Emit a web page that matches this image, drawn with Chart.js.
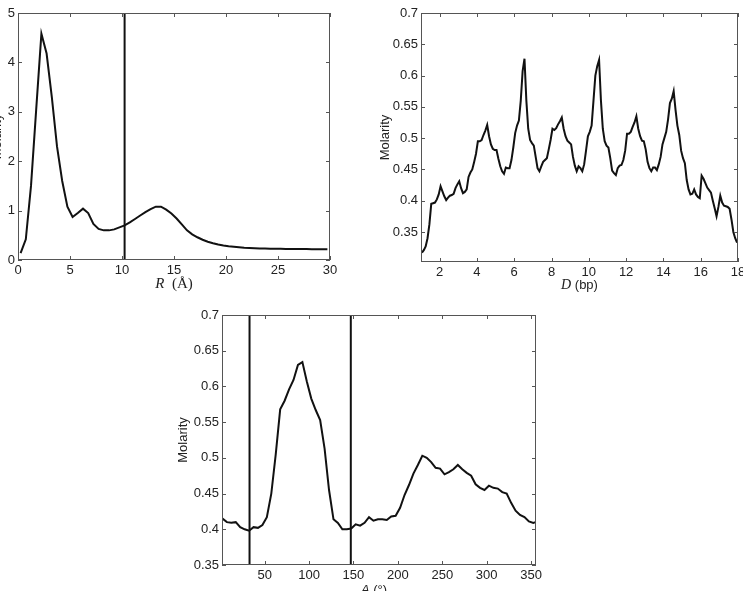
<!DOCTYPE html>
<html>
<head>
<meta charset="utf-8">
<title>Molarity profiles</title>
<script src="https://cdn.jsdelivr.net/npm/chart.js@4.4.0/dist/chart.umd.min.js"></script>
<style>
  html, body { margin: 0; padding: 0; background: #fff; }
  #page { position: relative; width: 743px; height: 591px; overflow: hidden; background: #fff; }
  #page canvas { position: absolute; }
  #radial { left: -30px; top: 0; }
  #along { left: 370px; top: 0; }
  #angle { left: 160px; top: 300px; }
</style>
</head>
<body>
<div id="page">
  <canvas id="radial" width="370" height="300"></canvas>
  <canvas id="along" width="373" height="300"></canvas>
  <canvas id="angle" width="383" height="310"></canvas>
</div>
<script>
// radial profile, R in Angstrom
var radius = [0.25, 0.75, 1.25, 1.75, 2.25, 2.75, 3.25, 3.75, 4.25, 4.75,
	5.25, 5.75, 6.25, 6.75, 7.25, 7.75, 8.25, 8.75, 9.25, 9.75,
	10.25, 10.75, 11.25, 11.75, 12.25, 12.75, 13.25, 13.75, 14.25, 14.75,
	15.25, 15.75, 16.25, 16.75, 17.25, 17.75, 18.25, 18.75, 19.25, 19.75,
	20.25, 20.75, 21.25, 21.75, 22.25, 22.75, 23.25, 23.75, 24.25, 24.75,
	25.25, 25.75, 26.25, 26.75, 27.25, 27.75, 28.25, 28.75, 29.25, 29.75];
var molarityR = [0.14, 0.42, 1.5, 3.05, 4.58, 4.18, 3.3, 2.3, 1.6, 1.08,
	0.87, 0.95, 1.04, 0.95, 0.73, 0.63, 0.6, 0.6, 0.62, 0.66,
	0.7, 0.76, 0.83, 0.9, 0.97, 1.03, 1.08, 1.08, 1.02, 0.94,
	0.84, 0.72, 0.6, 0.52, 0.46, 0.41, 0.37, 0.34, 0.315, 0.295,
	0.28, 0.27, 0.26, 0.25, 0.245, 0.24, 0.235, 0.232, 0.23, 0.228,
	0.226, 0.225, 0.224, 0.223, 0.222, 0.221, 0.22, 0.22, 0.219, 0.218];
var radiusCuts = [10.25];
var radiusTicks = [0, 5, 10, 15, 20, 25, 30];
var molarityRTicks = [0, 1, 2, 3, 4, 5];

// profile along the DNA, D in bp
var distBp = [1.05, 1.15, 1.25, 1.35, 1.45, 1.55, 1.65, 1.75, 1.85, 1.95,
	2.05, 2.15, 2.25, 2.35, 2.45, 2.55, 2.65, 2.75, 2.85, 2.95,
	3.05, 3.15, 3.25, 3.35, 3.45, 3.55, 3.65, 3.75, 3.85, 3.95,
	4.05, 4.15, 4.25, 4.35, 4.45, 4.55, 4.65, 4.75, 4.85, 4.95,
	5.05, 5.15, 5.25, 5.35, 5.45, 5.55, 5.65, 5.75, 5.85, 5.95,
	6.05, 6.15, 6.25, 6.35, 6.45, 6.55, 6.65, 6.75, 6.85, 6.95,
	7.05, 7.15, 7.25, 7.35, 7.45, 7.55, 7.65, 7.75, 7.85, 7.95,
	8.05, 8.15, 8.25, 8.35, 8.45, 8.55, 8.65, 8.75, 8.85, 8.95,
	9.05, 9.15, 9.25, 9.35, 9.45, 9.55, 9.65, 9.75, 9.85, 9.95,
	10.05, 10.15, 10.25, 10.35, 10.45, 10.55, 10.65, 10.75, 10.85, 10.95,
	11.05, 11.15, 11.25, 11.35, 11.45, 11.55, 11.65, 11.75, 11.85, 11.95,
	12.05, 12.15, 12.25, 12.35, 12.45, 12.55, 12.65, 12.75, 12.85, 12.95,
	13.05, 13.15, 13.25, 13.35, 13.45, 13.55, 13.65, 13.75, 13.85, 13.95,
	14.05, 14.15, 14.25, 14.35, 14.45, 14.55, 14.65, 14.75, 14.85, 14.95,
	15.05, 15.15, 15.25, 15.35, 15.45, 15.55, 15.65, 15.75, 15.85, 15.95,
	16.05, 16.15, 16.25, 16.35, 16.45, 16.55, 16.65, 16.75, 16.85, 16.95,
	17.05, 17.15, 17.25, 17.35, 17.45, 17.55, 17.65, 17.75, 17.85, 17.95];
var molarityD = [0.317, 0.321, 0.327, 0.34, 0.362, 0.395, 0.396, 0.397, 0.402, 0.41,
	0.423, 0.415, 0.407, 0.401, 0.405, 0.408, 0.409, 0.411, 0.42, 0.426,
	0.431, 0.42, 0.412, 0.414, 0.418, 0.438, 0.445, 0.45, 0.462, 0.475,
	0.495, 0.495, 0.497, 0.505, 0.512, 0.521, 0.503, 0.49, 0.483, 0.481,
	0.481, 0.467, 0.455, 0.447, 0.443, 0.453, 0.452, 0.452, 0.465, 0.485,
	0.508, 0.52, 0.528, 0.56, 0.607, 0.627, 0.56, 0.515, 0.497, 0.492,
	0.488, 0.47, 0.452, 0.447, 0.455, 0.462, 0.465, 0.468, 0.482, 0.497,
	0.515, 0.513, 0.516, 0.522, 0.527, 0.533, 0.515, 0.503, 0.496, 0.493,
	0.49, 0.47, 0.456, 0.447, 0.455, 0.452, 0.447, 0.458, 0.48, 0.503,
	0.51, 0.52, 0.56, 0.6, 0.615, 0.625, 0.56, 0.515, 0.495, 0.488,
	0.485, 0.468, 0.448, 0.444, 0.441, 0.452, 0.456, 0.457, 0.465, 0.48,
	0.507, 0.507, 0.51, 0.518, 0.525, 0.535, 0.515, 0.503, 0.496, 0.495,
	0.482, 0.462, 0.452, 0.447, 0.453, 0.453, 0.449, 0.458, 0.47, 0.49,
	0.5, 0.51, 0.53, 0.556, 0.563, 0.575, 0.545, 0.52, 0.505, 0.48,
	0.468, 0.46, 0.433, 0.418, 0.41, 0.411, 0.418, 0.41, 0.406, 0.404,
	0.44, 0.435, 0.428, 0.421, 0.417, 0.413, 0.4, 0.388, 0.375, 0.39,
	0.408, 0.397, 0.392, 0.391, 0.39, 0.387, 0.37, 0.35, 0.34, 0.333];
var distTicks = [2, 4, 6, 8, 10, 12, 14, 16, 18];
var molarityDTicks = [0.35, 0.4, 0.45, 0.5, 0.55, 0.6, 0.65, 0.7];

// angular profile, A in degrees
var angleDeg = [2.5, 7.5, 12.5, 17.5, 22.5, 27.5, 32.5, 37.5, 42.5, 47.5,
	52.5, 57.5, 62.5, 67.5, 72.5, 77.5, 82.5, 87.5, 92.5, 97.5,
	102.5, 107.5, 112.5, 117.5, 122.5, 127.5, 132.5, 137.5, 142.5, 147.5,
	152.5, 157.5, 162.5, 167.5, 172.5, 177.5, 182.5, 187.5, 192.5, 197.5,
	202.5, 207.5, 212.5, 217.5, 222.5, 227.5, 232.5, 237.5, 242.5, 247.5,
	252.5, 257.5, 262.5, 267.5, 272.5, 277.5, 282.5, 287.5, 292.5, 297.5,
	302.5, 307.5, 312.5, 317.5, 322.5, 327.5, 332.5, 337.5, 342.5, 347.5,
	352.5, 355];
var molarityA = [0.415, 0.41, 0.409, 0.41, 0.403, 0.4, 0.398, 0.403, 0.402, 0.406,
	0.417, 0.45, 0.505, 0.568, 0.58, 0.596, 0.609, 0.63, 0.634, 0.607,
	0.583, 0.567, 0.553, 0.513, 0.455, 0.414, 0.409, 0.4, 0.4, 0.401,
	0.407, 0.405, 0.409, 0.417, 0.412, 0.414, 0.414, 0.413, 0.418, 0.419,
	0.43, 0.448, 0.462, 0.478, 0.49, 0.503, 0.5, 0.494, 0.486, 0.485,
	0.477, 0.48, 0.484, 0.49, 0.484, 0.479, 0.475, 0.463, 0.458, 0.455,
	0.461, 0.458, 0.457, 0.452, 0.45, 0.437, 0.426, 0.42, 0.417, 0.411,
	0.409, 0.41];
var angleCuts = [33, 147];
var angleTicks = [50, 100, 150, 200, 250, 300, 350];
var molarityATicks = [0.35, 0.4, 0.45, 0.5, 0.55, 0.6, 0.65, 0.7];

var sansFont = 'Liberation Sans, Arial, Helvetica, sans-serif';
var serifFont = 'Liberation Serif, Times New Roman, serif';
var textColor = '#222';

function toPoints(xs, ys) {
	return xs.map(function(x, i) { return {x: x, y: ys[i]}; });
}

function tickLabel(v) {
	return String(parseFloat(Number(v).toFixed(2)));
}

// matlab style box with inward ticks on all four sides
var matlabBox = {
	id: 'matlabBox',
	afterDatasetsDraw: function(chart) {
		var a = chart.chartArea, ctx = chart.ctx;
		var sx = chart.scales.x, sy = chart.scales.y;
		var len = 4;
		ctx.save();
		ctx.strokeStyle = '#555';
		ctx.lineWidth = 1;
		ctx.beginPath();
		sx.ticks.forEach(function(t) {
			var p = Math.round(sx.getPixelForValue(t.value)) + 0.5;
			ctx.moveTo(p, a.bottom); ctx.lineTo(p, a.bottom - len);
			ctx.moveTo(p, a.top); ctx.lineTo(p, a.top + len);
		});
		sy.ticks.forEach(function(t) {
			var p = Math.round(sy.getPixelForValue(t.value)) + 0.5;
			ctx.moveTo(a.left, p); ctx.lineTo(a.left + len, p);
			ctx.moveTo(a.right, p); ctx.lineTo(a.right - len, p);
		});
		ctx.stroke();
		ctx.strokeRect(Math.round(a.left) + 0.5, Math.round(a.top) + 0.5,
			Math.round(a.right - a.left) - 1, Math.round(a.bottom - a.top) - 1);
		ctx.restore();
	}
};

// x axis caption with an italic symbol followed by an upright unit
var axisCaption = {
	id: 'axisCaption',
	afterDraw: function(chart, args, opts) {
		if (!opts.parts) return;
		var ctx = chart.ctx, a = chart.chartArea;
		ctx.save();
		ctx.fillStyle = textColor;
		ctx.textBaseline = 'middle';
		ctx.textAlign = 'left';
		var total = 0;
		opts.parts.forEach(function(part) {
			ctx.font = part.font;
			total += ctx.measureText(part.text).width;
		});
		var x = (a.left + a.right) / 2 + (opts.dx || 0) - total / 2;
		opts.parts.forEach(function(part) {
			ctx.font = part.font;
			ctx.fillText(part.text, x, opts.y);
			x += ctx.measureText(part.text).width;
		});
		ctx.restore();
	}
};

function makePanel(id, p) {
	var sets = [{
		data: toPoints(p.xs, p.ys),
		borderColor: '#111',
		borderWidth: 2,
		pointRadius: 0,
		tension: 0
	}];
	p.cuts.forEach(function(c) {
		sets.push({
			data: [{x: c, y: p.yMin}, {x: c, y: p.yMax}],
			borderColor: '#111',
			borderWidth: 2,
			pointRadius: 0
		});
	});

	return new Chart(document.getElementById(id), {
		type: 'line',
		data: { datasets: sets },
		options: {
			responsive: false,
			animation: false,
			devicePixelRatio: 1,
			events: [],
			layout: { padding: p.pad },
			plugins: {
				legend: { display: false },
				tooltip: { enabled: false },
				axisCaption: { parts: p.xCaption, y: p.xCaptionY, dx: p.xCaptionDx }
			},
			scales: {
				x: {
					type: 'linear',
					min: p.xMin,
					max: p.xMax,
					grid: { display: false, drawTicks: false },
					border: { display: false },
					ticks: {
						font: { family: sansFont, size: 13 },
						color: textColor,
						padding: 3,
						autoSkip: false,
						maxRotation: 0,
						callback: tickLabel
					},
					afterBuildTicks: function(s) {
						s.ticks = p.xTicks.map(function(v) { return {value: v}; });
					},
					afterFit: function(s) {
						s.height = p.xH;
						s.paddingLeft = 0;
						s.paddingRight = 0;
					},
					title: { display: false }
				},
				y: {
					type: 'linear',
					min: p.yMin,
					max: p.yMax,
					grid: { display: false, drawTicks: false },
					border: { display: false },
					ticks: {
						font: { family: sansFont, size: 13 },
						color: textColor,
						padding: 3,
						autoSkip: false,
						callback: tickLabel
					},
					afterBuildTicks: function(s) {
						s.ticks = p.yTicks.map(function(v) { return {value: v}; });
					},
					afterFit: function(s) {
						s.width = p.yW;
						s.paddingTop = 0;
						s.paddingBottom = 0;
					},
					title: {
						display: true,
						text: 'Molarity',
						font: { family: sansFont, size: 13 },
						color: textColor,
						padding: { top: p.yTitlePad, bottom: 0 }
					}
				}
			}
		},
		plugins: [matlabBox, axisCaption]
	});
}

makePanel('radial', {
	xs: radius, ys: molarityR, cuts: radiusCuts,
	xMin: 0, xMax: 30, yMin: 0, yMax: 5,
	xTicks: radiusTicks, yTicks: molarityRTicks,
	xCaption: [
		{ text: 'R', font: 'italic 15px ' + serifFont },
		{ text: '  (Å)', font: '15px ' + serifFont }
	],
	xCaptionY: 284, xCaptionDx: 0,
	pad: { left: 0, right: 10, top: 13, bottom: 6 },
	yW: 48, xH: 34, yTitlePad: 20
});

makePanel('along', {
	xs: distBp, ys: molarityD, cuts: [],
	xMin: 1, xMax: 18, yMin: 0.302, yMax: 0.7,
	xTicks: distTicks, yTicks: molarityDTicks,
	xCaption: [
		{ text: 'D', font: 'italic 14px ' + serifFont },
		{ text: ' (bp)', font: '13px ' + sansFont }
	],
	xCaptionY: 285, xCaptionDx: 0,
	pad: { left: 0, right: 5, top: 13, bottom: 6 },
	yW: 51, xH: 32, yTitlePad: 8
});

makePanel('angle', {
	xs: angleDeg, ys: molarityA, cuts: angleCuts,
	xMin: 2, xMax: 355.5, yMin: 0.35, yMax: 0.7,
	xTicks: angleTicks, yTicks: molarityATicks,
	xCaption: [
		{ text: 'A', font: 'italic 13px ' + sansFont },
		{ text: ' (°)', font: '13px ' + sansFont }
	],
	xCaptionY: 290, xCaptionDx: -5,
	pad: { left: 0, right: 7, top: 15, bottom: 5 },
	yW: 62, xH: 40, yTitlePad: 16
});
</script>
</body>
</html>
